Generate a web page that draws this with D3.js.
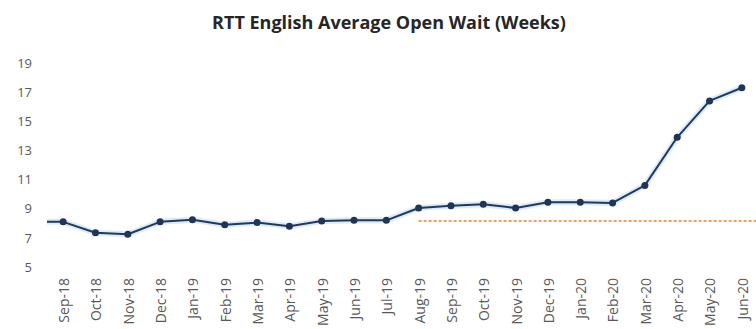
<!DOCTYPE html>
<html>
<head>
<meta charset="utf-8">
<script src="https://cdn.jsdelivr.net/npm/d3@7"></script>
<style>
  body { margin: 0; background: #fff; }
  svg { display: block; font-family: "Open Sans", sans-serif; }
</style>
</head>
<body>
<div class="chart"></div>
<script>
// months shown on the axis
const months = ["Sep-18", "Oct-18", "Nov-18", "Dec-18", "Jan-19", "Feb-19", "Mar-19", "Apr-19",
  "May-19", "Jun-19", "Jul-19", "Aug-19", "Sep-19", "Oct-19", "Nov-19", "Dec-19",
  "Jan-20", "Feb-20", "Mar-20", "Apr-20", "May-20", "Jun-20"];

// average open wait in weeks
const avgWait = [8.1, 7.35, 7.25, 8.1, 8.25, 7.9, 8.05, 7.8, 8.15, 8.2, 8.2, 9.05,
  9.2, 9.3, 9.05, 9.45, 9.45, 9.4, 10.6, 13.9, 16.4, 17.3];

// value before Sep-18, only the stub of its segment shows at the left edge
const leadValue = 8.1;

// dashed reference line, starting at Aug-19
const refStart = "Aug-19";
const refValue = 8.15;

const yTicks = [5, 7, 9, 11, 13, 15, 17, 19];

const width = 756, height = 329;
const svg = d3.select(".chart").append("svg")
    .attr("width", width)
    .attr("height", height);

const x = d3.scaleBand()
    .domain(months)
    .range([47, 758]);
const cx = d => x(d) + x.bandwidth() / 2;

const y = d3.scaleLinear()
    .domain([5, 19])
    .range([267, 63]);

// title
svg.append("text")
    .attr("x", 389)
    .attr("y", 29)
    .attr("text-anchor", "middle")
    .style("font-size", "18px")
    .style("font-weight", "bold")
    .style("fill", "#262626")
    .text("RTT English Average Open Wait (Weeks)");

// y axis, labels only
const yAxis = svg.append("g")
    .attr("transform", "translate(36,0)")
    .call(d3.axisLeft(y).tickValues(yTicks).tickSize(0).tickPadding(4));
yAxis.select(".domain").remove();
yAxis.selectAll("text")
    .style("font-size", "13px")
    .style("font-family", "Open Sans, sans-serif")
    .style("fill", "#595959");

// x axis, rotated labels
const xAxis = svg.append("g")
    .attr("transform", "translate(0,274)")
    .call(d3.axisBottom(x).tickSize(0).tickPadding(0));
xAxis.select(".domain").remove();
xAxis.selectAll("text")
    .attr("transform", "rotate(-90)")
    .attr("x", -4)
    .attr("y", 1)
    .attr("dy", "0.35em")
    .attr("text-anchor", "end")
    .style("font-size", "14px")
    .style("font-family", "Open Sans, sans-serif")
    .style("fill", "#595959");

// dashed reference line
svg.append("line")
    .attr("x1", cx(refStart))
    .attr("x2", x.range()[1])
    .attr("y1", y(refValue))
    .attr("y2", y(refValue))
    .attr("stroke", "#ed7d31")
    .attr("stroke-width", 1.5)
    .attr("stroke-dasharray", "3,2");

// main series, with the lead-in stub from the plot edge
const pts = [[x.range()[0], y(leadValue)]].concat(months.map((m, i) => [cx(m), y(avgWait[i])]));
const line = d3.line();

svg.append("path")
    .attr("d", line(pts))
    .attr("fill", "none")
    .attr("stroke", "#bdd7ee")
    .attr("stroke-width", 6)
    .attr("stroke-opacity", 0.5)
    .attr("stroke-linejoin", "round");

svg.append("path")
    .attr("d", line(pts))
    .attr("fill", "none")
    .attr("stroke", "#203a5e")
    .attr("stroke-width", 2)
    .attr("stroke-linejoin", "round");

svg.append("g")
    .selectAll("circle")
    .data(months)
    .join("circle")
    .attr("cx", d => cx(d))
    .attr("cy", (d, i) => y(avgWait[i]))
    .attr("r", 3.5)
    .attr("fill", "#1f3558");
</script>
</body>
</html>
